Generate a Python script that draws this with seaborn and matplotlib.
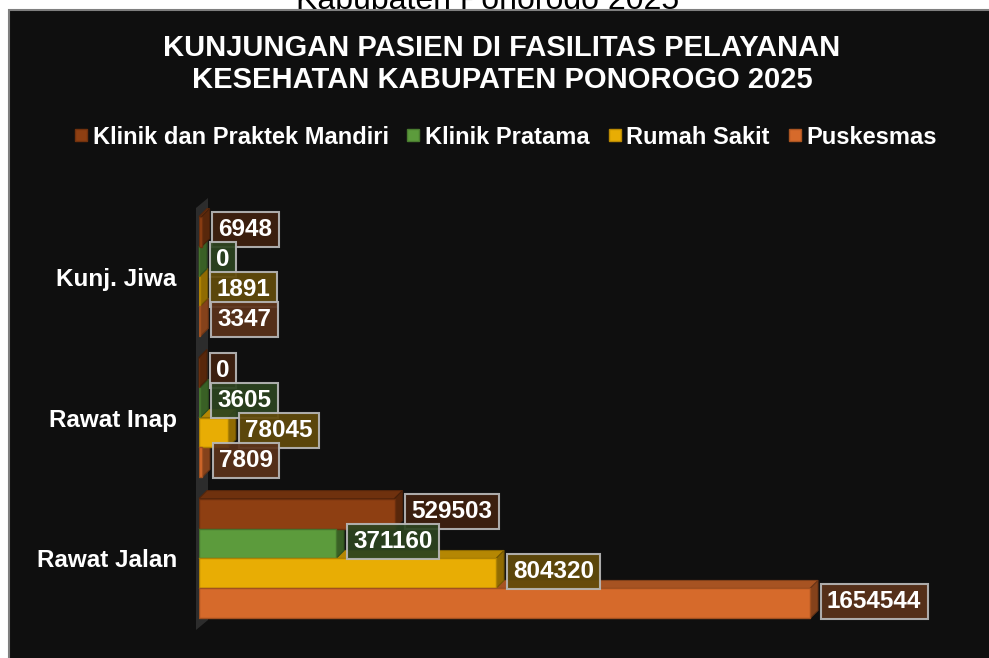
import numpy as np
import pandas as pd
import seaborn as sns
import matplotlib
matplotlib.use("Agg")
import matplotlib.pyplot as plt
from matplotlib.patches import Polygon, Rectangle
from matplotlib.lines import Line2D
import matplotlib.colors as mcolors

# ---------------- data ----------------
categories = ["Kunj. Jiwa", "Rawat Inap", "Rawat Jalan"]
series = ["Klinik dan Praktek Mandiri", "Klinik Pratama", "Rumah Sakit", "Puskesmas"]
klinik_mandiri = [6948, 0, 529503]
klinik_pratama = [0, 3605, 371160]
rumah_sakit = [1891, 78045, 804320]
puskesmas = [3347, 7809, 1654544]
colors = ["#8E3F12", "#5C9B3C", "#E8AD04", "#D66A2B"]
title_lines = ["KUNJUNGAN PASIEN DI FASILITAS PELAYANAN",
               "KESEHATAN KABUPATEN PONOROGO 2025"]
top_caption = "Kabupaten Ponorogo 2025"

values = [klinik_mandiri, klinik_pratama, rumah_sakit, puskesmas]
df = pd.DataFrame({
    "category": [c for s in series for c in categories],
    "series": [s for s in series for c in categories],
    "value": [v for vals in values for v in vals],
})

# ---------------- figure ----------------
sns.set_theme(style="dark")
plt.rcParams["font.family"] = ["Liberation Sans", "DejaVu Sans"]

W, H = 989, 658
fig = plt.figure(figsize=(W / 100, H / 100), dpi=100, facecolor="white")

fig.text(488 / W, 1 - 9 / H, top_caption, ha="center", va="baseline",
         fontsize=23, color="black", zorder=0)
panel = Rectangle((9 / W, -0.02), 1.0, 1 - 10 / H + 0.02, transform=fig.transFigure,
                  facecolor="#0f0f0f", edgecolor="#7f7f7f", lw=1.5, zorder=1)
fig.add_artist(panel)

AX_L, AX_R, AX_T, AX_B = 199, 940, 200, 635
ax = fig.add_axes([AX_L / W, 1 - AX_B / H, (AX_R - AX_L) / W, (AX_B - AX_T) / H])
ax.set_zorder(3)
ax.patch.set_alpha(0)

XMAX = 2006600
YTOP, YBOT = -0.5426, 2.5426

sns.barplot(data=df, x="value", y="category", hue="series", order=categories,
            hue_order=series, palette=colors, orient="h", width=0.85,
            saturation=1, errorbar=None, legend=False, ax=ax, linewidth=0)
ax.set_xlim(0, XMAX)
ax.set_ylim(YBOT, YTOP)

px_x = XMAX / (AX_R - AX_L)
px_y = (YBOT - YTOP) / (AX_B - AX_T)
dxd, dyd = 8 * px_x, 8 * px_y


def shade(c, f):
    r, g, b = mcolors.to_rgb(c)
    return (r * f, g * f, b * f)


def mix(c, a, bg=(0.06, 0.06, 0.06)):
    r, g, b = mcolors.to_rgb(c)
    return (r * a + bg[0] * (1 - a), g * a + bg[1] * (1 - a), b * a + bg[2] * (1 - a))


# back wall
yw_t = YTOP + 8 * px_y
yw_b = YBOT - 5 * px_y
xa = -3 * px_x
wall = Polygon([(xa, yw_b), (xa, yw_t), (xa + 12 * px_x, yw_t - 10 * px_y),
                (xa + 12 * px_x, yw_b - 10 * px_y)], closed=True,
               facecolor="#2c2c2c", edgecolor="none", zorder=1, clip_on=False)
ax.add_patch(wall)

# 3D faces (draw lower series first so upper ones overlay)
for ci in reversed(range(len(ax.containers))):
    cont = ax.containers[ci]
    col = colors[ci]
    for bar in cont:
        x0, w = bar.get_x(), bar.get_width()
        y0, h = bar.get_y(), bar.get_height()
        yt, yb = min(y0, y0 + h), max(y0, y0 + h)
        top = Polygon([(x0, yt), (x0 + w, yt), (x0 + w + dxd, yt - dyd), (x0 + dxd, yt - dyd)],
                      closed=True, facecolor=shade(col, 0.78), edgecolor=shade(col, 0.6),
                      lw=0.8, zorder=2, clip_on=False)
        right = Polygon([(x0 + w, yt), (x0 + w + dxd, yt - dyd), (x0 + w + dxd, yb - dyd), (x0 + w, yb)],
                        closed=True, facecolor=shade(col, 0.62), edgecolor=shade(col, 0.5),
                        lw=0.8, zorder=2, clip_on=False)
        ax.add_patch(top)
        ax.add_patch(right)

for ci, cont in enumerate(ax.containers):
    for bar in cont:
        bar.set_zorder(3)
        bar.set_edgecolor(shade(colors[ci], 0.75))
        bar.set_linewidth(1.0)

# value labels
for ci, cont in enumerate(ax.containers):
    vals = values[ci]
    for bi, bar in enumerate(cont):
        x0, w = bar.get_x(), bar.get_width()
        yc = bar.get_y() + bar.get_height() / 2
        ax.annotate(f"{vals[bi]}", xy=(x0 + w, yc), xytext=(17, 2),
                    textcoords="offset pixels", ha="left", va="center",
                    fontsize=17.5, fontweight="bold", color="white", zorder=6,
                    annotation_clip=False,
                    bbox=dict(boxstyle="square,pad=0.26", fc=mix(colors[ci], 0.38),
                              ec="#b8b8b8", lw=1.5, alpha=0.92))

# axes styling
for s in ax.spines.values():
    s.set_visible(False)
ax.set_xticks([])
ax.set_xlabel("")
ax.set_ylabel("")
ax.grid(False)
ax.tick_params(axis="y", length=0, pad=16, labelsize=17.5, labelcolor="white")
for t in ax.get_yticklabels():
    t.set_fontweight("bold")

# title
fig.text(502 / W, 1 - 48 / H, title_lines[0], ha="center", va="center",
         fontsize=21, fontweight="bold", color="white", zorder=5)
fig.text(502 / W, 1 - 80 / H, title_lines[1], ha="center", va="center",
         fontsize=21, fontweight="bold", color="white", zorder=5)

# legend
handles = [Line2D([0], [0], marker="s", linestyle="", markerfacecolor=c,
                  markeredgecolor=shade(c, 0.8), markersize=8) for c in colors]
leg = fig.legend(handles, series, loc="center", bbox_to_anchor=(506 / W, 1 - 137 / H),
                 ncol=4, frameon=False, handlelength=0.5, handletextpad=0.25,
                 columnspacing=0.8, labelcolor="white",
                 prop={"size": 17, "weight": "bold"})
leg.set_zorder(5)

fig.savefig("out.png", dpi=100, facecolor="white")
